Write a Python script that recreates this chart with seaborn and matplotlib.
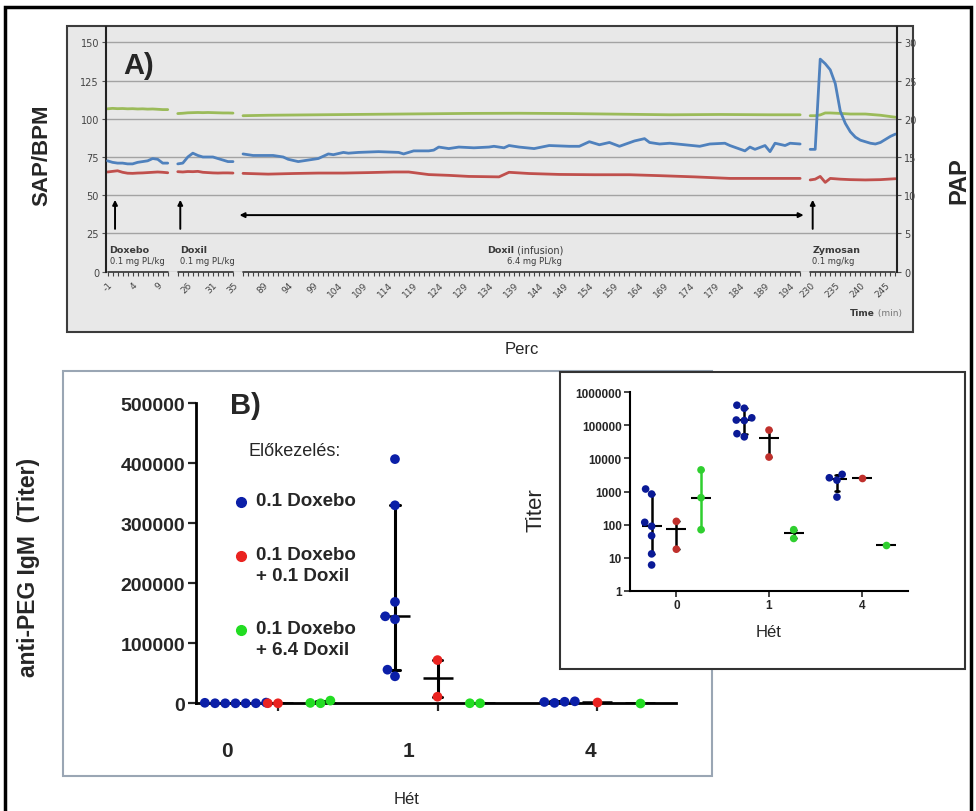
import numpy as np
import pandas as pd
import matplotlib
matplotlib.use("Agg")
import matplotlib.pyplot as plt
import seaborn as sns
from matplotlib.patches import Rectangle
from matplotlib.ticker import FuncFormatter, NullLocator

sns.set_style("ticks")
plt.rcParams['font.family'] = ['Liberation Sans', 'DejaVu Sans']

# ---------------- A) haemodynamics ----------------
segments = [(-1, 11), (24, 35), (85, 196), (230, 247)]
seg_gap = 2
x_label_min = [-1, 4, 9, 26, 31, 35] + list(range(89, 195, 5)) + [230, 235, 240, 245]

pap_t = (list(range(-1, 12)) + list(range(24, 36)) +
         [85, 87, 91, 93, 94, 96, 98, 100, 102, 103, 105, 106, 108, 112, 116, 117, 119, 120,
          122, 123, 124, 126, 128, 131, 134, 135, 137, 138, 140, 143, 146, 150, 152, 154, 156,
          158, 160, 163, 165, 166, 168, 170, 173, 176, 178, 181, 182, 185, 186, 187, 189, 190,
          191, 193, 194, 196] +
         list(range(230, 248)))
pap_v = ([14.5, 14.3, 14.2, 14.2, 14.1, 14.1, 14.3, 14.4, 14.5, 14.8, 14.7, 14.2, 14.2] +
         [14.1, 14.2, 15.0, 15.5, 15.2, 15.0, 15.0, 15.0, 14.8, 14.6, 14.4, 14.4] +
         [15.4, 15.2, 15.2, 15.0, 14.7, 14.4, 14.6, 14.8, 15.4, 15.3, 15.6, 15.5, 15.6, 15.7,
          15.6, 15.4, 15.8, 15.8, 15.8, 15.9, 16.3, 16.1, 16.3, 16.2, 16.3, 16.4, 16.2, 16.5,
          16.3, 16.1, 16.5, 16.4, 16.4, 17.0, 16.6, 16.9, 16.4, 17.1, 17.4, 16.9, 16.7, 16.8,
          16.6, 16.4, 16.7, 16.8, 16.5, 15.8, 16.3, 16.0, 16.5, 15.7, 16.8, 16.5, 16.8, 16.7] +
         [16.0, 16.0, 27.8, 27.2, 26.4, 24.6, 21.0, 19.4, 18.3, 17.6, 17.2, 17.0, 16.8, 16.7,
          16.9, 17.3, 17.7, 18.0])

sap_t = (list(range(-1, 12)) + list(range(24, 36)) +
         [85, 90, 100, 110, 120, 130, 140, 150, 160, 170, 180, 190, 196] +
         [230, 231, 232, 233, 234, 236, 238, 241, 244, 247])
sap_v = ([106.5, 106.8, 106.6, 106.7, 106.5, 106.6, 106.4, 106.5, 106.3, 106.4, 106.2, 106.0, 106.0] +
         [103.4, 103.6, 103.9, 104.0, 104.1, 104.0, 104.1, 104.0, 103.9, 103.8, 103.8, 103.7] +
         [102.0, 102.3, 102.6, 102.9, 103.2, 103.5, 103.6, 103.4, 103.0, 102.6, 102.8, 102.6, 102.6] +
         [102.0, 102.0, 102.5, 103.8, 103.8, 103.5, 103.1, 103.1, 102.3, 101.0])

bpm_t = (list(range(-1, 12)) + list(range(24, 36)) +
         [85, 90, 95, 100, 105, 110, 115, 118, 122, 126, 130, 136, 138, 142, 148, 155, 162,
          168, 175, 182, 190, 196] +
         [230, 231, 232, 233, 234, 236, 238, 241, 244, 247])
bpm_v = ([65.2, 65.6, 66.0, 65.0, 64.4, 64.3, 64.5, 64.6, 64.8, 65.0, 65.2, 65.0, 64.7] +
         [65.4, 65.2, 65.5, 65.4, 65.6, 65.0, 64.8, 64.6, 64.5, 64.6, 64.6, 64.5] +
         [64.3, 63.8, 64.2, 64.5, 64.5, 64.8, 65.2, 65.2, 63.5, 63.0, 62.3, 62.0, 65.0, 64.2,
          63.6, 63.4, 63.4, 62.8, 62.0, 61.0, 61.0, 61.0] +
         [60.0, 60.5, 62.3, 58.4, 61.0, 60.5, 60.2, 60.0, 60.2, 60.8])

# ---------------- B) anti-PEG IgM titers ----------------
weeks = ["0", "1", "4"]
groups = ["0.1 Doxebo", "0.1 Doxebo\n+ 0.1 Doxil", "0.1 Doxebo\n+ 6.4 Doxil"]
doxebo = {"0": [1190, 89, 117, 837, 46, 13, 6],
          "1": [407000, 330000, 169000, 145000, 140000, 56000, 45000],
          "4": [3300, 2600, 2200, 680]}
doxil_01 = {"0": [125, 18], "1": [72000, 11000], "4": [2600]}
doxil_64 = {"0": [4500, 650, 70], "1": [70, 38], "4": [24]}
colors_main = ["#0b1fa8", "#ea2320", "#22dd22"]
colors_inset = ["#0a1a96", "#c0302c", "#2fcf2f"]

# ---------------- build frames ----------------
starts = np.array([a for a, b in segments])
ends = np.array([b for a, b in segments])
offsets = np.concatenate([[0], np.cumsum(ends - starts + seg_gap)[:-1]])


def to_pos(t):
    t = np.asarray(t, float)
    i = np.searchsorted(ends, t)
    return offsets[i] + t - starts[i]


def hemo_frame(name, times, values):
    t = np.asarray(times, float)
    return pd.DataFrame({'series': name, 'time': t, 'pos': to_pos(t),
                         'seg': np.searchsorted(ends, t), 'value': values})


hemo = pd.concat([hemo_frame('PAP', pap_t, pap_v),
                  hemo_frame('SAP', sap_t, sap_v),
                  hemo_frame('BPM', bpm_t, bpm_v)], ignore_index=True)

rows = []
for g, d in zip(groups, [doxebo, doxil_01, doxil_64]):
    for w in weeks:
        for v in d[w]:
            rows.append({'week': w, 'group': g, 'titer': v})
titers = pd.DataFrame(rows)


def iqr(x):
    return (np.percentile(x, 25, method="weibull"), np.percentile(x, 75, method="weibull"))


W, H = 976, 812
fig = plt.figure(figsize=(W / 100, H / 100), dpi=100)


def fx(px):
    return px / W


def fy(py):
    return 1 - py / H


# frames
fig.add_artist(Rectangle((fx(5), fy(816)), fx(966), (816 - 8) / H, transform=fig.transFigure,
                         fill=False, ec='black', lw=2.5, zorder=5))
fig.add_artist(Rectangle((fx(67), fy(333)), fx(913 - 67), (333 - 27) / H, transform=fig.transFigure,
                         fc='#e8e8e8', ec='#3c3c3c', lw=1.5, zorder=-2))
fig.add_artist(Rectangle((fx(63), fy(777)), fx(712 - 63), (777 - 372) / H, transform=fig.transFigure,
                         fc='white', ec='#9aa6b4', lw=1.5, zorder=-2))
fig.add_artist(Rectangle((fx(560), fy(670)), fx(965 - 560), (670 - 373) / H, transform=fig.transFigure,
                         fc='white', ec='#333333', lw=1.5, zorder=1.5))

# ---------------- panel A ----------------
axA = fig.add_axes([fx(106), fy(272.7), fx(897 - 106), (272.7 - 28) / H])
axA.set_facecolor('none')
sns.lineplot(data=hemo[hemo.series != 'PAP'], x='pos', y='value', hue='series', units='seg',
             estimator=None, palette={'SAP': '#9bbb59', 'BPM': '#c0504d'}, lw=2,
             legend=False, ax=axA)
axA.set_xlim(to_pos(-1) - 0.3, to_pos(247) + 0.3)
axA.set_ylim(0, 160)
axA.set_yticks(range(0, 151, 25))
axA.yaxis.grid(True, color='#a3a3a3', lw=1)
axA.set_axisbelow(True)
axP = axA.twinx()
sns.lineplot(data=hemo[hemo.series == 'PAP'], x='pos', y='value', units='seg', estimator=None,
             color='#4f81bd', lw=2, legend=False, ax=axP)
axP.set_ylim(0, 32)
axP.set_yticks(range(0, 31, 5))
for ax in (axA, axP):
    ax.set_xlabel('')
    ax.set_ylabel('')
    for s in ax.spines.values():
        s.set_visible(False)
axA.spines['left'].set_visible(True)
axA.spines['left'].set_color('#222222')
axA.spines['left'].set_linewidth(1.5)
axP.spines['right'].set_visible(True)
axP.spines['right'].set_color('#222222')
axP.spines['right'].set_linewidth(1.5)

for a, b in segments:
    axA.plot(to_pos([a, b]), [0, 0], color='#333333', lw=1.2, clip_on=False)
minor_pos = np.concatenate([to_pos(np.arange(a, b + 1)) for a, b in segments])
axA.set_xticks(minor_pos, minor=True)
axA.set_xticks(to_pos(x_label_min))
axA.set_xticklabels([str(m) for m in x_label_min], rotation=45, ha='right',
                    rotation_mode='anchor', fontsize=6.5, color='#444444', family='DejaVu Sans')
axA.tick_params(axis='x', which='both', direction='out', length=3, width=0.8, color='#444444', pad=3)
axA.tick_params(axis='y', length=3, color='#555555', labelsize=7, labelcolor='#444444', pad=2)
axP.tick_params(axis='y', length=3, color='#555555', labelsize=7, labelcolor='#444444', pad=2)
for lab in axA.get_yticklabels() + axP.get_yticklabels():
    lab.set_family('DejaVu Sans')

arr = dict(arrowstyle='-|>', color='black', lw=1.4, mutation_scale=7, shrinkA=0, shrinkB=0)
for t in [0.5, 24.5, 230.5]:
    axA.annotate('', xy=(to_pos(t), 47), xytext=(to_pos(t), 28), arrowprops=arr)
axA.annotate('', xy=(to_pos(85) - 0.7, 37), xytext=(to_pos(196) + 0.7, 37),
             arrowprops=dict(arrowstyle='<|-|>', color='black', lw=1.4, mutation_scale=7,
                             shrinkA=0, shrinkB=0))

tcol = '#3a3a3a'
small = dict(family='DejaVu Sans', color=tcol, va='center')
for t, name, dose in [(-1, 'Doxebo', '0.1 mg PL/kg'), (24, 'Doxil', '0.1 mg PL/kg'),
                      (230, 'Zymosan', '0.1 mg/kg')]:
    axA.text(to_pos(t) + 0.4, 14.8, name, fontsize=6.8, weight='bold', ha='left', **small)
    axA.text(to_pos(t) + 0.4, 7.6, dose, fontsize=6, ha='left', **small)
axA.text(to_pos(139), 14.8, 'Doxil', fontsize=6.8, weight='bold', ha='right', **small)
axA.text(to_pos(139), 14.8, ' (infusion)', fontsize=7, ha='left', **small)
axA.text(to_pos(143), 7.6, '6.4 mg PL/kg', fontsize=6, ha='center', **small)
axA.text(0.972, -0.165, 'Time', transform=axA.transAxes, fontsize=6.5, weight='bold',
         ha='right', **small)
axA.text(0.972, -0.165, ' (min)', transform=axA.transAxes, fontsize=6.5, ha='left',
         family='DejaVu Sans', color='#777777', va='center')

fig.text(fx(123), fy(66), 'A)', fontsize=21, weight='bold', va='center')
fig.text(fx(42), fy(155), 'SAP/BPM', rotation=90, fontsize=16, weight='bold', ha='center', va='center')
fig.text(fx(959), fy(181), 'PAP', rotation=90, fontsize=17, weight='bold', ha='center', va='center')
fig.text(fx(522), fy(350), 'Perc', fontsize=12, ha='center', va='center')

# ---------------- panel B main ----------------
axB = fig.add_axes([fx(196), fy(704.3), fx(676 - 196), (704.3 - 404.3) / H])
axB.set_facecolor('none')
sns.swarmplot(data=titers, x='week', y='titer', hue='group', order=weeks, hue_order=groups,
              palette=colors_main, dodge=True, size=7, legend=False, clip_on=False, ax=axB)
sns.pointplot(data=titers, x='week', y='titer', hue='group', order=weeks, hue_order=groups,
              palette=['black'] * 3, dodge=0.8 * 2 / 3, estimator='median', errorbar=iqr,
              markers='_', markersize=22, markeredgewidth=1.8, linestyle='none', capsize=0.06,
              err_kws={'linewidth': 2.2}, legend=False, ax=axB)
axB.set_xlim(-0.514, 2.495)
axB.set_ylim(0, 500000)
axB.set_yticks(range(0, 500001, 100000))
axB.yaxis.set_major_formatter(FuncFormatter(lambda v, p: f"{v:.0f}"))
axB.set_xticks([-0.32, 0.82, 1.96])
axB.set_xticklabels(weeks)
axB.set_xticks([0, 1, 2], minor=True)
axB.set_xlabel('')
axB.set_ylabel('')
sns.despine(ax=axB)
for s in ('left', 'bottom'):
    axB.spines[s].set_linewidth(2)
    axB.spines[s].set_color('black')
axB.tick_params(axis='y', length=6, width=1.6, labelsize=14, pad=2)
axB.tick_params(axis='x', which='major', length=0, labelsize=15, pad=27)
axB.tick_params(axis='x', which='minor', length=5.5, width=1.6, direction='out')
for lab in axB.get_yticklabels() + axB.get_xticklabels():
    lab.set_fontweight('bold')

fig.text(fx(230), fy(406), 'B)', fontsize=21, weight='bold', va='center')
fig.text(fx(29), fy(567), 'anti-PEG IgM  (Titer)', rotation=90, fontsize=16.5, weight='bold',
         ha='center', va='center')
fig.text(fx(407), fy(800), 'Hét', fontsize=12, ha='center', va='center')

# legend
fig.text(fx(248), fy(452), 'Előkezelés:', fontsize=13, va='center')
leg_y = [502.7, 556.7, 630.7]
for g, c, y in zip(groups, colors_main, leg_y):
    fig.add_artist(plt.Line2D([fx(241)], [fy(y)], marker='o', ms=7, color=c, ls='none',
                              transform=fig.transFigure))
    fig.text(fx(256), fy(y - 10), g, fontsize=13.5, weight='bold', va='top', linespacing=1.3)

# ---------------- panel B inset ----------------
axI = fig.add_axes([fx(630), fy(591.7), fx(908 - 630), (591.7 - 393.3) / H])
axI.set_zorder(2)
axI.set_facecolor('none')
green_w0 = (titers.week == "0") & (titers.group == groups[2])
point_kws = dict(x='week', y='titer', hue='group', order=weeks, hue_order=groups,
                 palette=['black'] * 3, dodge=0.8 * 2 / 3, estimator='median', errorbar=iqr,
                 markers='_', markersize=14, markeredgewidth=1.5, linestyle='none',
                 capsize=0.05, zorder=3, legend=False, ax=axI)
sns.pointplot(data=titers[~green_w0], err_kws={'linewidth': 1.8, 'zorder': 3}, **point_kws)
sns.pointplot(data=titers[green_w0], err_kws={'linewidth': 1.8, 'zorder': 3,
                                              'color': colors_inset[2]}, **point_kws)
axI.set_yscale('log')
axI.set_ylim(1, 1e6)
sns.swarmplot(data=titers, x='week', y='titer', hue='group', order=weeks, hue_order=groups,
              palette=colors_inset, dodge=True, size=5.5, legend=False, ax=axI)
axI.set_xlim(-0.5, 2.5)
axI.set_ylim(1, 1e6)
axI.yaxis.set_major_formatter(FuncFormatter(lambda v, p: f"{v:.0f}"))
axI.yaxis.set_minor_locator(NullLocator())
axI.set_yticks([10 ** k for k in range(7)])
axI.set_ylabel('')
axI.set_xlabel('Hét', fontsize=12, labelpad=9)
sns.despine(ax=axI)
for s in ('left', 'bottom'):
    axI.spines[s].set_linewidth(1.5)
    axI.spines[s].set_color('black')
axI.tick_params(axis='both', length=4, width=1.2, labelsize=8.5, pad=2)
for lab in axI.get_yticklabels() + axI.get_xticklabels():
    lab.set_fontweight('bold')
fig.text(fx(536), fy(510), 'Titer', rotation=90, fontsize=16, ha='center', va='center')

fig.savefig('out.png', dpi=100)
